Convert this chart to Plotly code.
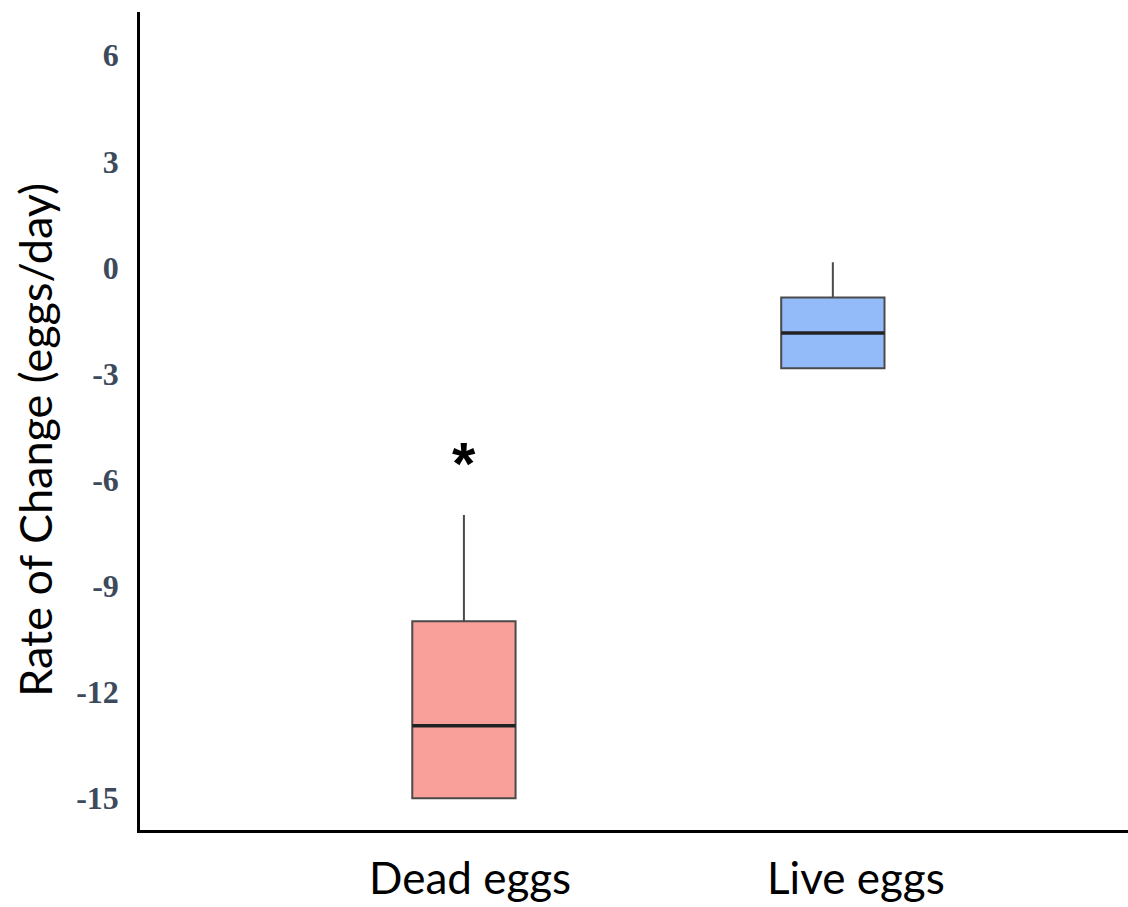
import plotly.graph_objects as go

categories = ["Dead eggs", "Live eggs"]
q1 = [-15.0, -2.85]
median = [-12.95, -1.85]
q3 = [-10.0, -0.85]
lower = [-15.0, -2.85]
upper = [-7.0, 0.15]
fills = ["#F9A09A", "#93BBFA"]
y_ticks = [6, 3, 0, -3, -6, -9, -12, -15]
sig_label = "*"
sig_y = -5.53
y_title = "Rate of Change (eggs/day)"

BOX_W = 0.28
LABEL_XSHIFT = [6, 23]

fig = go.Figure()
for i, cat in enumerate(categories):
    fig.add_trace(go.Box(
        x=[cat], q1=[q1[i]], median=[median[i]], q3=[q3[i]],
        lowerfence=[lower[i]], upperfence=[upper[i]],
        fillcolor=fills[i], line=dict(color="#4a4a4a", width=2),
        width=BOX_W, whiskerwidth=0, boxpoints=False, showlegend=False,
        hoverinfo="skip",
    ))
    fig.add_shape(type="line", xref="x", yref="y",
                  x0=i - BOX_W / 2, x1=i + BOX_W / 2, y0=median[i], y1=median[i],
                  line=dict(color="#222222", width=3.5))
    fig.add_annotation(x=cat, xref="x", yref="paper", y=0, yshift=-47,
                       xshift=LABEL_XSHIFT[i], text=cat, showarrow=False,
                       xanchor="center", yanchor="middle",
                       font=dict(family="Lato", size=44, color="black"))

fig.add_annotation(x=categories[0], y=sig_y, text=sig_label, showarrow=False,
                   font=dict(family="Liberation Sans", size=60, color="black", weight="bold"),
                   yanchor="middle")

fig.add_annotation(xref="paper", yref="paper", x=0, y=0.477, xshift=-105,
                   text=y_title, textangle=-90, showarrow=False,
                   xanchor="center", yanchor="middle",
                   font=dict(family="Lato", size=45, color="black"))

fig.update_layout(
    width=1128, height=907,
    margin=dict(l=140, r=0, t=12, b=77),
    paper_bgcolor="white", plot_bgcolor="white",
    xaxis=dict(type="category", range=[-0.878, 1.8], showline=True,
               linecolor="black", linewidth=2.5, showgrid=False, ticks="",
               showticklabels=False),
    yaxis=dict(range=[-15.9, 7.22], tickvals=y_ticks, ticktext=[str(v) for v in y_ticks],
               showline=True, linecolor="black", linewidth=2.5, showgrid=False,
               zeroline=False, ticks="",
               tickfont=dict(family="Liberation Serif", size=32, color="#3d4a5c",
                             weight="bold"),
               ticklabelstandoff=12),
)

fig.write_html("out.html")
